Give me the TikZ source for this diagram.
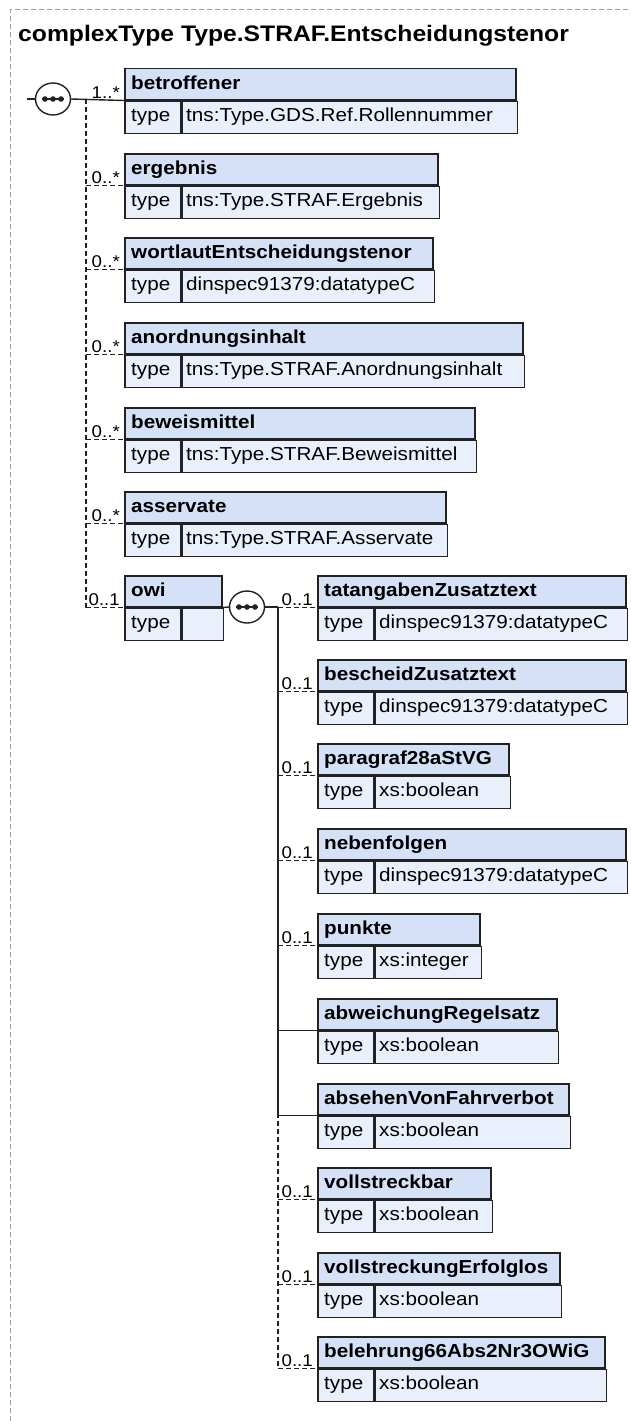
\documentclass[tikz,border=0pt]{standalone}
\usepackage{fontspec}
\setmainfont{Liberation Sans}[FakeStretch=1.1]
\usetikzlibrary{shapes.geometric,calc}
\definecolor{hdrfill}{RGB}{213,225,246}
\definecolor{typfill}{RGB}{234,240,251}
\definecolor{boxline}{RGB}{34,34,34}
\definecolor{framegray}{RGB}{160,160,160}
\tikzset{
  hdr/.style={draw=boxline, fill=hdrfill, line width=1.5pt, minimum height=31pt, inner sep=0pt, anchor=north west},
  typ/.style={draw=boxline, fill=typfill, line width=1.5pt, minimum height=32pt, inner sep=0pt, anchor=north west},
  nametxt/.style={anchor=base west, inner sep=0pt, font=\fontsize{18.8}{22}\selectfont\bfseries},
  typtxt/.style={anchor=base west, inner sep=0pt, font=\fontsize{18.8}{22}\selectfont},
  mult/.style={anchor=base east, inner sep=0pt, font=\fontsize{17}{20}\selectfont},
  conn/.style={draw=boxline, line width=1.4pt},
  opt/.style={conn, dash pattern=on 5pt off 3pt},
  seqnode/.style={ellipse, draw=boxline, fill=white, line width=1.4pt, minimum width=35pt, minimum height=32pt, inner sep=0pt},
  frame/.style={draw=framegray, line width=1pt, dash pattern=on 5pt off 3pt}
}
\newcommand\xsdelem[6]{%
  \node[hdr, minimum width={(#4-#2)*1pt}] (#1) at (#2,#3) {};
  \node[typ, minimum width=56pt] (#1k) at (#1.south west) {};
  \node[typ, minimum width={(#4-#2-56)*1pt}] (#1v) at (#1k.north east) {};
  \node[nametxt] (#1n) at ($(#1.north west)+(7,21)$) {#5};
  \node[typtxt] (#1kt) at ($(#1.north west)+(7,53)$) {type};
  \node[typtxt] (#1vt) at ($(#1.north west)+(62,53)$) {#6};
}
\newcommand\seqdots[1]{%
  \draw[conn] ($(#1)+(-11,0)$) -- ($(#1)+(11,0)$);
  \fill[boxline] ($(#1)+(-8,0)$) circle (2.8pt) ($(#1)$) circle (2.8pt) ($(#1)+(8,0)$) circle (2.8pt);
}
\begin{document}
\begin{tikzpicture}[x=1pt,y=-1pt]
\useasboundingbox (0,0) rectangle (631,1421);
% outer frame
\coordinate (fbl) at (10,1421);
\coordinate (ftl) at (10,10);
\coordinate (ftr) at (631,10);
\draw[frame] (fbl) -- (ftl) -- (ftr);
\node[anchor=base west, inner sep=0pt, font=\fontsize{22.45}{26}\selectfont\bfseries] (title) at (18,42) {complexType Type.STRAF.Entscheidungstenor};

% left column elements
\xsdelem{betroffener}{124}{68}{515}{betroffener}{tns:Type.GDS.Ref.Rollennummer}
\xsdelem{ergebnis}{124}{153}{437}{ergebnis}{tns:Type.STRAF.Ergebnis}
\xsdelem{wortlaut}{124}{237}{432}{wortlautEntscheidungstenor}{dinspec91379:datatypeC}
\xsdelem{anordnung}{124}{322}{522}{anordnungsinhalt}{tns:Type.STRAF.Anordnungsinhalt}
\xsdelem{beweis}{124}{407}{474}{beweismittel}{tns:Type.STRAF.Beweismittel}
\xsdelem{asservate}{124}{491}{445}{asservate}{tns:Type.STRAF.Asservate}
\xsdelem{owi}{124}{575}{221}{owi}{}

% right column elements
\xsdelem{tatangaben}{317}{575}{625}{tatangabenZusatztext}{dinspec91379:datatypeC}
\xsdelem{bescheid}{317}{659}{625}{bescheidZusatztext}{dinspec91379:datatypeC}
\xsdelem{paragraf}{317}{743}{508}{paragraf28aStVG}{xs:boolean}
\xsdelem{nebenfolgen}{317}{828}{625}{nebenfolgen}{dinspec91379:datatypeC}
\xsdelem{punkte}{317}{913}{479}{punkte}{xs:integer}
\xsdelem{abweichung}{317}{998}{556}{abweichungRegelsatz}{xs:boolean}
\xsdelem{absehen}{317}{1083}{568}{absehenVonFahrverbot}{xs:boolean}
\xsdelem{vollstreckbar}{317}{1167}{490}{vollstreckbar}{xs:boolean}
\xsdelem{vollerfolglos}{317}{1252}{559}{vollstreckungErfolglos}{xs:boolean}
\xsdelem{belehrung}{317}{1336}{604}{belehrung66Abs2Nr3OWiG}{xs:boolean}

% top-level sequence
\node[seqnode] (seqa) at (53,99) {};
\seqdots{seqa}
\coordinate (seqin) at (27,99);
\coordinate (lj) at (86,99);
\draw[conn] (seqin) -- (seqa.west);
\draw[conn] (seqa.east) -- (betroffener.south west);
\draw[opt] (lj) -- (lj |- owi.south west);
\foreach \e in {ergebnis,wortlaut,anordnung,beweis,asservate,owi}{
  \draw[opt] (lj |- \e.south west) -- (\e.south west);
}
\node[mult] (mbetroffener) at ($(betroffener.south west)+(-4,-2)$) {1..*};
\foreach \e in {ergebnis,wortlaut,anordnung,beweis,asservate}{
  \node[mult] (m\e) at ($(\e.south west)+(-4,-2)$) {0..*};
}
\node[mult] (mowi) at ($(owi.south west)+(-4,-2)$) {0..1};

% owi sequence
\node[seqnode] (seqb) at (247,607) {};
\seqdots{seqb}
\coordinate (rj) at (278,607);
\coordinate (rs) at (278,1113);
\draw[conn] (owi.south east) -- (seqb.west);
\draw[conn] (seqb.east) -- (rj);
\draw[conn] (rj) -- (rs);
\draw[opt] (rs) -- (rs |- belehrung.south west);
\foreach \e in {tatangaben,bescheid,paragraf,nebenfolgen,punkte,vollstreckbar,vollerfolglos,belehrung}{
  \draw[opt] (rj |- \e.south west) -- (\e.south west);
  \node[mult] (m\e) at ($(\e.south west)+(-4,-2)$) {0..1};
}
\foreach \e in {abweichung,absehen}{
  \draw[conn] (rj |- \e.south west) -- (\e.south west);
}
\end{tikzpicture}
\end{document}
